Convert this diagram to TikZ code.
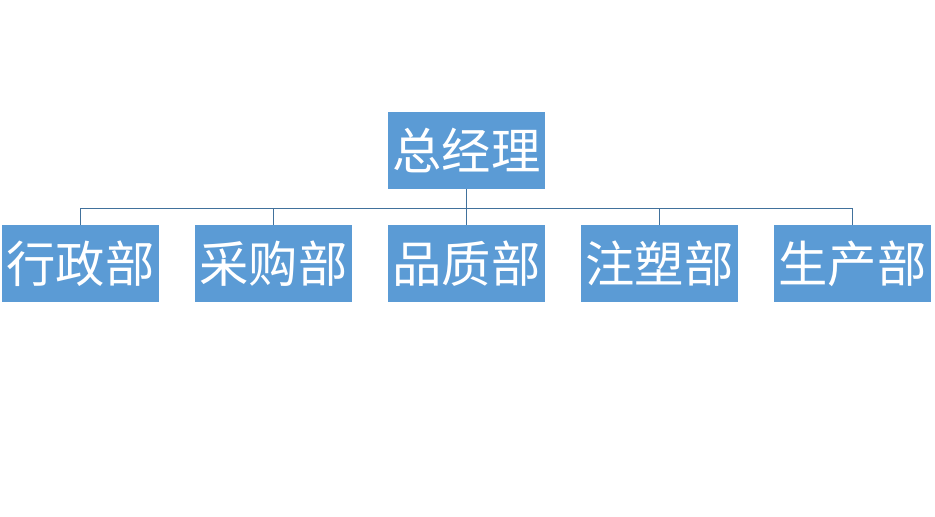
\documentclass[tikz,border=0pt]{standalone}
\usepackage{fontspec}
\newfontfamily\cjk{Noto Sans CJK SC}
\usetikzlibrary{positioning}
\definecolor{boxblue}{HTML}{5B9BD5}
\definecolor{linkblue}{HTML}{41719C}
\tikzset{
	post/.style={fill=boxblue, text=white, inner sep=0pt, minimum width=117.75pt, minimum height=57.75pt, font=\cjk\fontsize{37}{37}\selectfont},
	link/.style={draw=linkblue, line width=0.7pt}
}

\begin{document}
\begin{tikzpicture}[x=0.75pt, y=-0.75pt, node distance=144.75pt]
	\useasboundingbox (0,0) rectangle (935,517);
	
	\node[post] at (466.5,150.5) (zjl) {总经理};
	\node[post, below of=zjl, node distance=85.1pt] (pz) {品质部};
	\node[post, left of=pz] (cg) {采购部};
	\node[post, left of=cg] (xz) {行政部};
	\node[post, right of=pz] (zs) {注塑部};
	\node[post, right of=zs] (sc) {生产部};
	
	\coordinate (bus) at ([yshift=-14.25pt]zjl.south);
	\draw[link] (zjl.south) -- (bus);
	\foreach \d in {xz, cg, pz, zs, sc}
		\draw[link] (bus) -| (\d.north);
\end{tikzpicture}
\end{document}
